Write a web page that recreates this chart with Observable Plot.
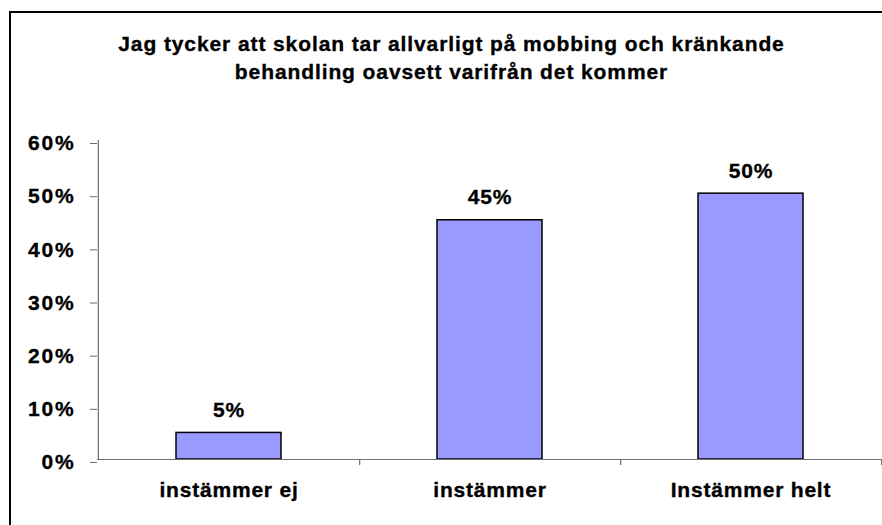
<!DOCTYPE html>
<html>
<head>
<meta charset="utf-8">
<script src="https://cdn.jsdelivr.net/npm/d3@7"></script>
<script src="https://cdn.jsdelivr.net/npm/@observablehq/plot@0.6"></script>
<style>
  html, body { margin: 0; padding: 0; background: #fff; overflow: hidden; }
  #wrap { position: relative; width: 882px; height: 525px; overflow: hidden; font-family: "Liberation Sans", Arial, sans-serif; }
  #frame { position: absolute; left: 9px; top: 11px; width: 900px; height: 600px; border: 2px solid #000; box-sizing: border-box; }
  #title { position: absolute; left: 0; width: 903px; top: 30px; text-align: center; font-weight: bold; font-size: 21px; line-height: 28px; color: #000; letter-spacing: 0.9px; -webkit-text-stroke: 0.35px #000; }
  #chart { position: absolute; left: 0; top: 0; }
  #chart svg text { letter-spacing: 0.8px; stroke: #000; stroke-width: 0.35px; }
  #chart svg g[aria-label="y-axis tick label"] text { letter-spacing: 1.8px; }
</style>
</head>
<body>
<div id="wrap">
  <div id="frame"></div>
  <div id="title">Jag tycker att skolan tar allvarligt på mobbing och kränkande<br>behandling oavsett varifrån det kommer</div>
  <div id="chart"></div>
</div>
<script>
const categories = ["instämmer ej", "instämmer", "Instämmer helt"];
const values = [0.05, 0.45, 0.50];
const yTicks = [0, 0.1, 0.2, 0.3, 0.4, 0.5, 0.6];

const data = categories.map((c, i) => ({category: c, value: values[i]}));

const W = 882, H = 525;
const mL = 97, mR = 1, mT = 140, mB = 66;
const bw = (W - mL - mR) / categories.length;
const pct = d3.format(".0%");
const font = {fontSize: 21, fontWeight: "bold", fill: "#000"};

const chart = Plot.plot({
  width: W,
  height: H,
  marginLeft: mL,
  marginRight: mR,
  marginTop: mT,
  marginBottom: mB,
  style: {fontFamily: "'Liberation Sans', Arial, sans-serif", background: "transparent", color: "#000", overflow: "visible"},
  x: {domain: categories, padding: 0, label: null},
  y: {domain: [0, 0.6], label: null},
  marks: [
    Plot.barY(data, {x: "category", y: "value", fill: "#9999FF", stroke: "#000", strokeWidth: 1.5, insetLeft: 78, insetRight: 78}),
    Plot.ruleY([0], {stroke: "#707070", strokeWidth: 1.2}),
    Plot.ruleX([categories[0]], {y1: 0, y2: 0.6, dx: -bw / 2, stroke: "#707070", strokeWidth: 1.2}),
    Plot.ruleX(categories, {x: d => d, y1: 0, y2: 0, dx: bw / 2, insetBottom: -6, stroke: "#707070", strokeWidth: 1.2}),
    Plot.axisY({ticks: yTicks, tickFormat: pct, tickSize: 7, tickPadding: 15, dy: 3, stroke: "#707070", ...font}),
    Plot.axisX({tickSize: 0, tickPadding: 23, ...font}),
    Plot.text(data, {x: "category", y: "value", text: d => pct(d.value), dy: -16, lineAnchor: "bottom", ...font})
  ]
});
document.getElementById("chart").appendChild(chart);
</script>
</body>
</html>
